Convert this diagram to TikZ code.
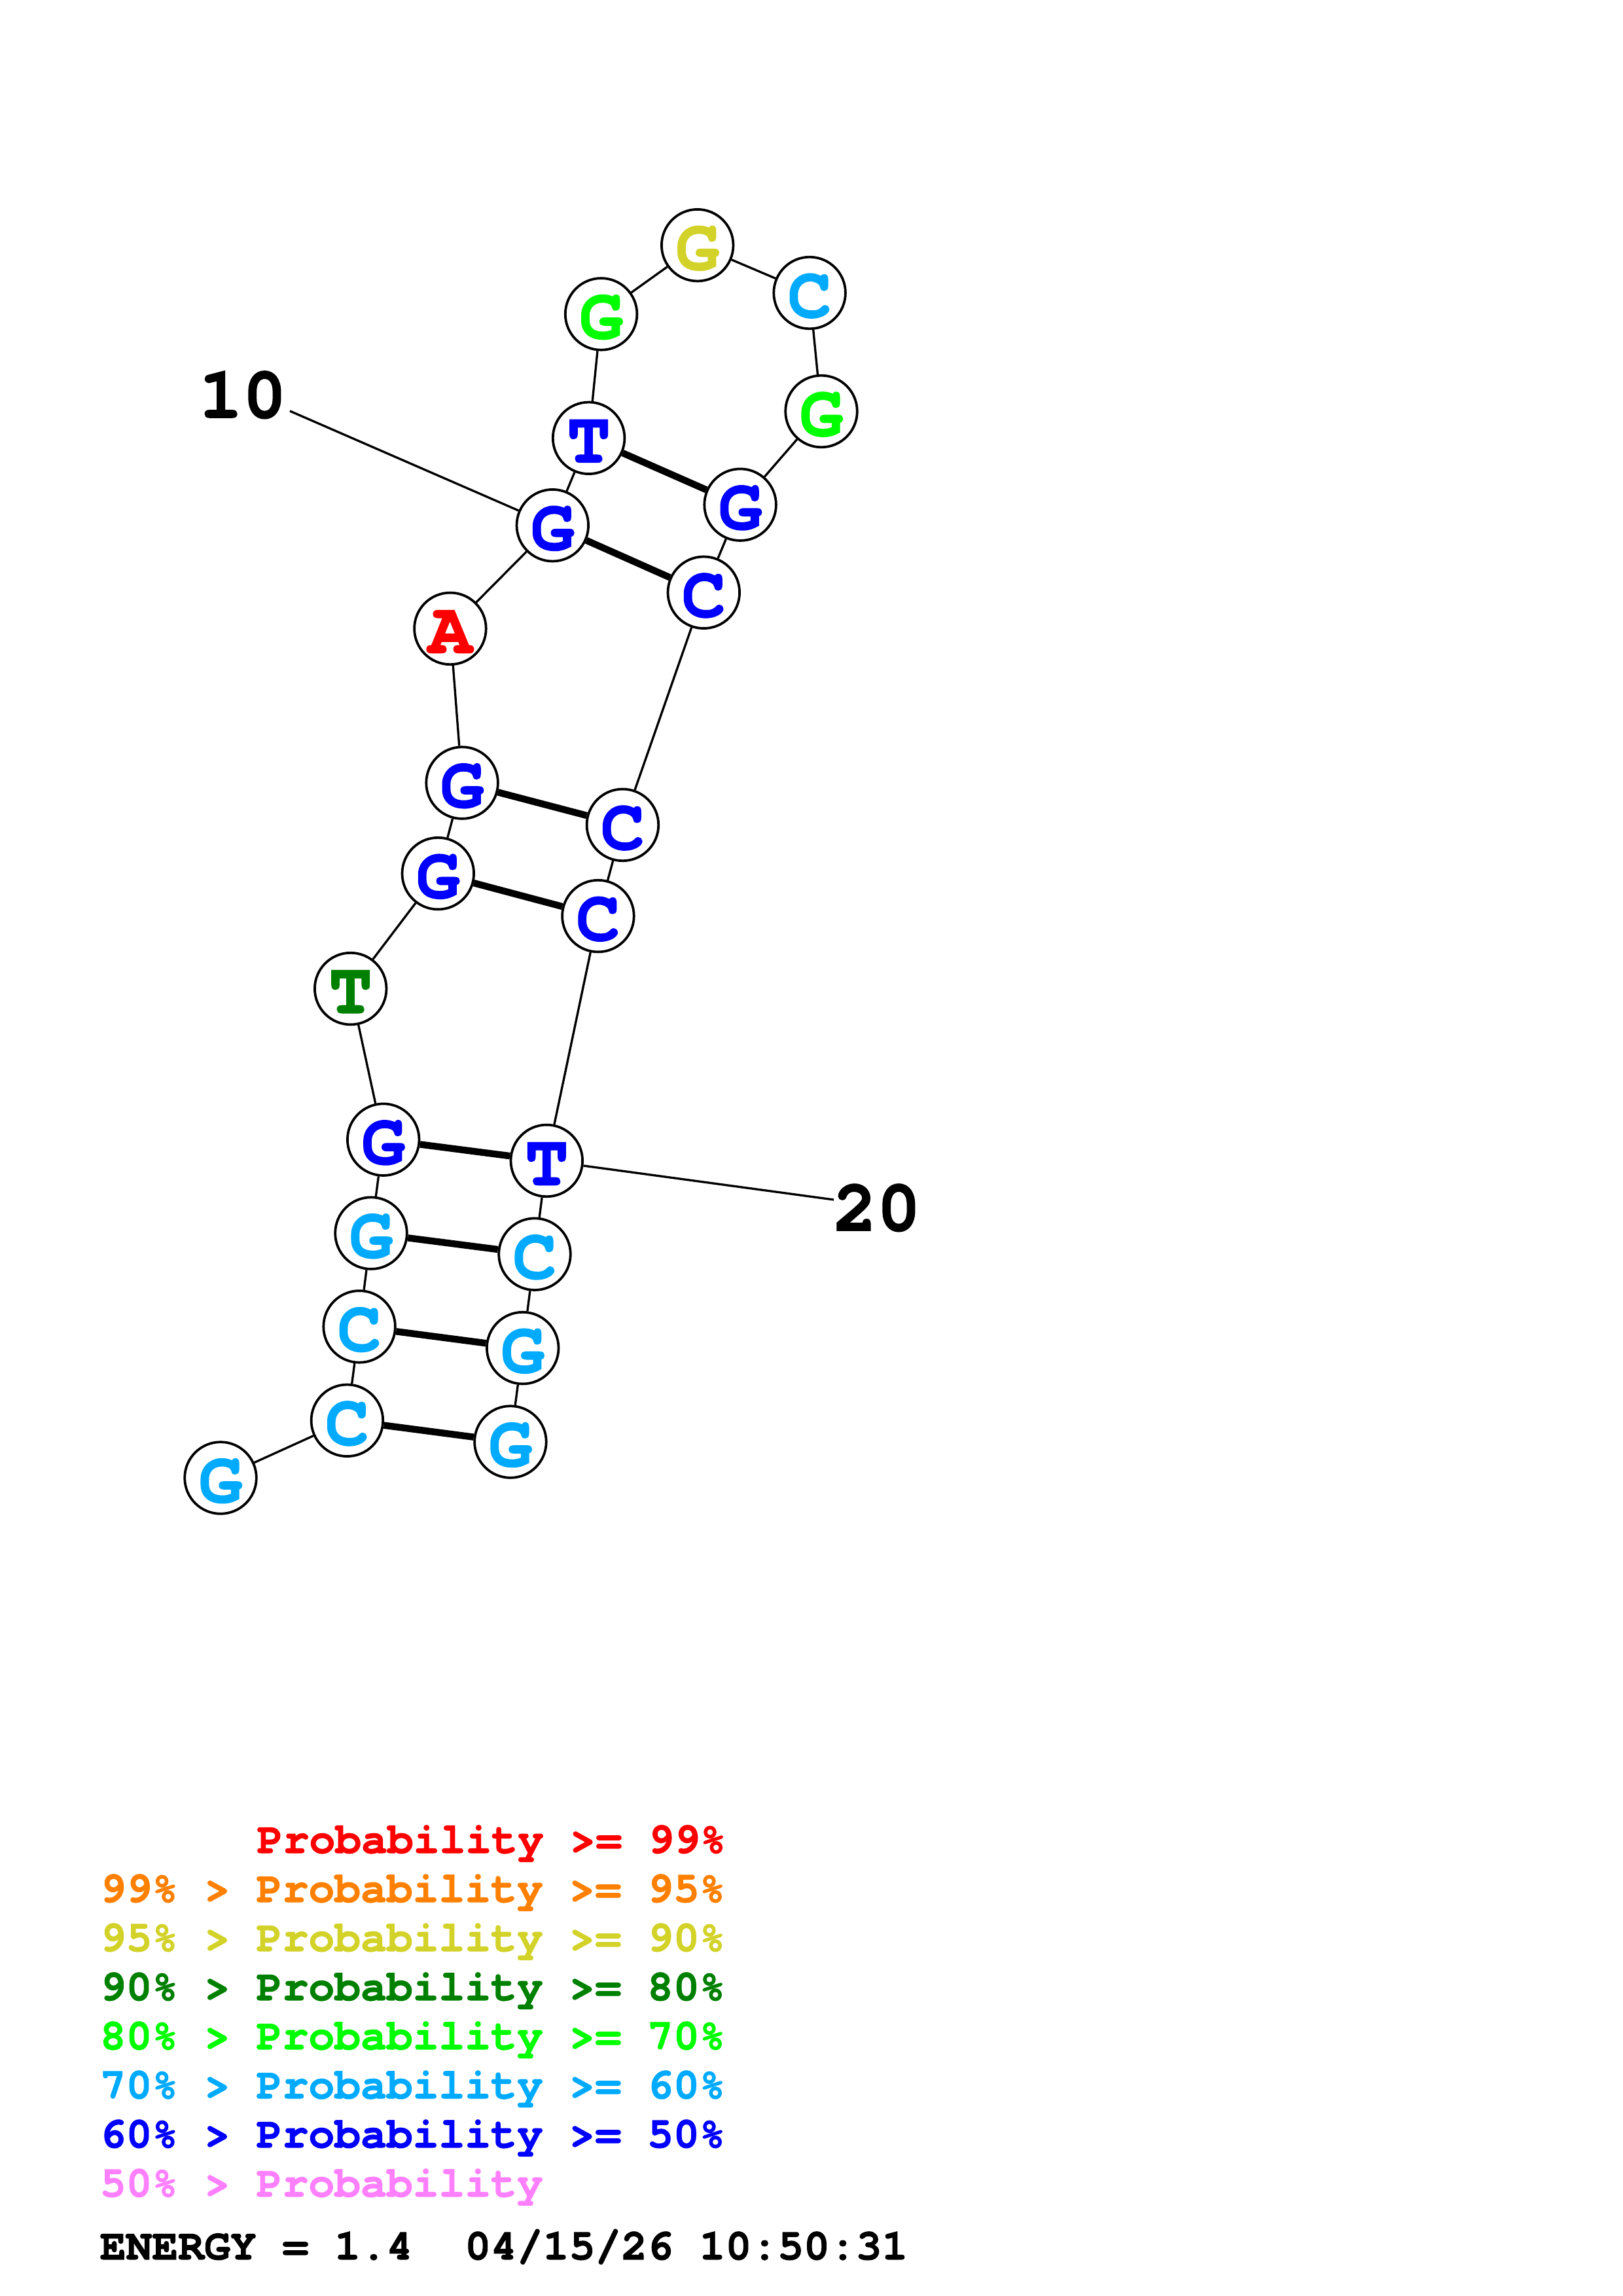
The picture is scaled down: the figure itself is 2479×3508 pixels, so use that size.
\documentclass[tikz,border=0pt]{standalone}
\usepackage{fontspec}
\setmainfont{TeX Gyre Cursor}[BoldFeatures={FakeBold=1.5}]
\usetikzlibrary{backgrounds}
\definecolor{pRed}{RGB}{255,0,0}
\definecolor{pOrange}{RGB}{255,128,0}
\definecolor{pYellow}{RGB}{210,210,40}
\definecolor{pDkGreen}{RGB}{0,128,0}
\definecolor{pGreen}{RGB}{0,255,0}
\definecolor{pLtBlue}{RGB}{0,170,255}
\definecolor{pBlue}{RGB}{0,0,255}
\definecolor{pPink}{RGB}{255,128,255}
\begin{document}
\begin{tikzpicture}[x=0.24pt,y=-0.24pt,
  nt/.style={circle,draw=black,fill=white,line width=0.9pt,minimum size=26.3pt,inner sep=0pt,
    font=\fontsize{26.7}{30}\selectfont\bfseries,text height=17.8pt,text depth=0pt},
  bb/.style={line width=0.8pt},
  bp/.style={line width=2.5pt},
  numlab/.style={anchor=base,inner sep=0pt,font=\fontsize{26.7}{30}\selectfont\bfseries},
  lg/.style={anchor=base west,inner sep=0pt,font=\fontsize{15.93}{18}\selectfont\bfseries}]
\useasboundingbox (0,0) rectangle (2479,3508);

% nucleotides
\node[nt,text=pLtBlue]  (n1)  at (337,2258)    {G};
\node[nt,text=pLtBlue]  (n2)  at (530.4,2170.3) {C};
\node[nt,text=pLtBlue]  (n3)  at (549.1,2026.9) {C};
\node[nt,text=pLtBlue]  (n4)  at (567,1884.1)   {G};
\node[nt,text=pBlue]    (n5)  at (585.7,1741.2) {G};
\node[nt,text=pDkGreen] (n6)  at (535.7,1510.6) {T};
\node[nt,text=pBlue]    (n7)  at (669.3,1334.6) {G};
\node[nt,text=pBlue]    (n8)  at (706.1,1196.1) {G};
\node[nt,text=pRed]     (n9)  at (687.9,960.4)  {A};
\node[nt,text=pBlue]    (n10) at (844.3,802.7)  {G};
\node[nt,text=pBlue]    (n11) at (899.6,669.3)  {T};
\node[nt,text=pGreen]   (n12) at (918.6,479.9)  {G};
\node[nt,text=pYellow]  (n13) at (1065.7,374.7) {G};
\node[nt,text=pLtBlue]  (n14) at (1237.1,447.5) {C};
\node[nt,text=pGreen]   (n15) at (1255,628.5)   {G};
\node[nt,text=pBlue]    (n16) at (1131.1,771.2) {G};
\node[nt,text=pBlue]    (n17) at (1075.3,905.3) {C};
\node[nt,text=pBlue]    (n18) at (951.4,1260.4) {C};
\node[nt,text=pBlue]    (n19) at (913.9,1399.6) {C};
\node[nt,text=pBlue]    (n20) at (835.3,1773.4) {T};
\node[nt,text=pLtBlue]  (n21) at (817,1916.2)   {C};
\node[nt,text=pLtBlue]  (n22) at (798.7,2059.6) {G};
\node[nt,text=pLtBlue]  (n23) at (779.9,2203)   {G};

% position labels
\node[numlab] (l10) at (371,638) {10};
\node[numlab] (l20) at (1340,1880) {20};
\coordinate (e10) at (443,628);
\coordinate (e20) at (1274,1833);

\begin{scope}[on background layer]
  \draw[bb] (n1) -- (n2) -- (n3) -- (n4) -- (n5) -- (n6) -- (n7) -- (n8) -- (n9) -- (n10)
    -- (n11) -- (n12) -- (n13) -- (n14) -- (n15) -- (n16) -- (n17) -- (n18) -- (n19)
    -- (n20) -- (n21) -- (n22) -- (n23);
  \draw[bp] (n2) -- (n23);
  \draw[bp] (n3) -- (n22);
  \draw[bp] (n4) -- (n21);
  \draw[bp] (n5) -- (n20);
  \draw[bp] (n7) -- (n19);
  \draw[bp] (n8) -- (n18);
  \draw[bp] (n10) -- (n17);
  \draw[bp] (n11) -- (n16);
  \draw[bb] (e10) -- (n10);
  \draw[bb] (n20) -- (e20);
\end{scope}

% legend
\node[lg,text=pRed]     (g1) at (392,2831)  {Probability >= 99\%};
\node[lg,text=pOrange]  (g2) at (152,2906)  {99\% > Probability >= 95\%};
\node[lg,text=pYellow]  (g3) at (152,2981)  {95\% > Probability >= 90\%};
\node[lg,text=pDkGreen] (g4) at (152,3056)  {90\% > Probability >= 80\%};
\node[lg,text=pGreen]   (g5) at (152,3131)  {80\% > Probability >= 70\%};
\node[lg,text=pLtBlue]  (g6) at (152,3206)  {70\% > Probability >= 60\%};
\node[lg,text=pBlue]    (g7) at (152,3281)  {60\% > Probability >= 50\%};
\node[lg,text=pPink]    (g8) at (152,3356)  {50\% > Probability};
\node[lg,text=black]    (en) at (152,3452)  {ENERGY = 1.4\ \ 04/15/26 10:50:31};
\end{tikzpicture}
\end{document}
